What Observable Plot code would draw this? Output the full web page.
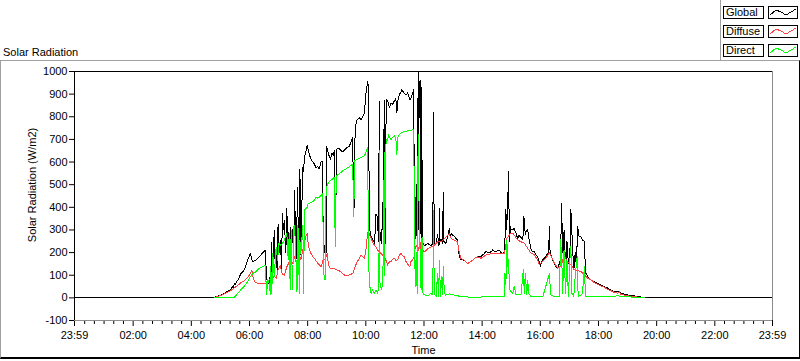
<!DOCTYPE html>
<html>
<head>
<meta charset="utf-8">
<script src="https://cdn.jsdelivr.net/npm/d3@7"></script>
<script src="https://cdn.jsdelivr.net/npm/@observablehq/plot@0.6"></script>
<style>
  body { margin: 0; background: #fff; font-family: "Liberation Sans", Arial, sans-serif; }
  #wrap { position: relative; width: 800px; height: 361px; overflow: hidden; background: #fff; }
  #title { position: absolute; left: 3px; top: 47px; font-size: 11px; line-height: 11px; color: #000; white-space: nowrap; }
  #legendPanel { position: absolute; left: 720px; top: 0; width: 80px; height: 61px; border-left: 1px solid #a0a0a0; box-sizing: border-box; }
  .lab { position: absolute; left: 723px; width: 41px; height: 13px; border: 1px solid #000; box-sizing: border-box; font-size: 11px; line-height: 11px; padding-left: 2px; background: #fff; white-space: nowrap; }
  .sw { position: absolute; left: 768px; width: 30px; height: 13px; border: 1px solid #000; box-sizing: border-box; background: #fff; }
  .sw svg { display: block; }
  #chart { position: absolute; left: 0; top: 60px; }
  #panel { position: absolute; left: 0; top: 60px; width: 800px; height: 299px; box-sizing: border-box; border-top: 1px solid #a0a0a0; border-left: 1px solid #a0a0a0; border-right: 1px solid #000; border-bottom: 2px solid #000; pointer-events: none; }
</style>
</head>
<body>
<div id="wrap">
  <div id="title">Solar Radiation</div>
  <div id="legendPanel"></div>
  <div id="legend"></div>
  <div id="chart"></div>
  <div id="panel"></div>
</div>
<script>
// ---- data ----
const seriesNames = ["Global", "Diffuse", "Direct"];
const seriesColors = ["#000000", "#ff4040", "#00ff00"];

const yTicks = [-100, 0, 100, 200, 300, 400, 500, 600, 700, 800, 900, 1000];
const xMajorTicks = [-1, 120, 240, 360, 480, 600, 720, 840, 960, 1080, 1200, 1320, 1439];
const xMajorLabels = ["23:59", "02:00", "04:00", "06:00", "08:00", "10:00", "12:00", "14:00", "16:00", "18:00", "20:00", "22:00", "23:59"];

const globalTimes = ["23:59","04:45","04:50","04:55","05:00","05:05","05:08","05:12","05:16","05:20","05:22","05:25","05:27","05:29","05:31","05:33","05:36","05:39","05:42","05:45","05:49","05:52","05:56","05:59","06:02","06:05","06:07","06:10","06:13","06:17","06:20","06:24","06:27","06:30","06:33","06:35","06:38","06:41","06:43","06:44","06:46","06:47","06:49","06:51","06:53","06:55","06:57","06:59","07:01","07:04","07:06","07:08","07:10","07:12","07:15","07:17","07:19","07:20","07:22","07:24","07:26","07:29","07:31","07:33","07:35","07:36","07:38","07:39","07:41","07:43","07:44","07:46","07:48","07:50","07:52","07:53","07:56","07:59","08:01","08:04","08:07","08:11","08:14","08:17","08:21","08:24","08:28","08:31","08:32","08:34","08:36","08:38","08:39","08:43","08:47","08:50","08:53","08:55","08:57","08:58","08:59","09:01","09:05","09:12","09:19","09:26","09:33","09:35","09:36","09:38","09:42","09:47","09:50","09:54","09:57","10:00","10:02","10:04","10:06","10:07","10:11","10:14","10:18","10:21","10:24","10:26","10:28","10:29","10:30","10:32","10:35","10:37","10:38","10:40","10:42","10:45","10:49","10:52","10:55","10:59","11:02","11:04","11:06","11:09","11:11","11:13","11:14","11:19","11:23","11:26","11:31","11:33","11:37","11:39","11:40","11:42","11:44","11:46","11:47","11:48","11:49","11:50","11:52","11:54","11:55","11:57","12:01","12:08","12:14","12:18","12:20","12:21","12:25","12:28","12:31","12:32","12:33","12:35","12:38","12:40","12:41","12:45","12:49","12:52","12:54","12:56","13:03","13:09","13:13","13:16","13:23","13:30","13:37","13:44","13:51","13:58","14:04","14:08","14:12","14:15","14:19","14:22","14:26","14:29","14:32","14:35","14:39","14:42","14:46","14:47","14:49","14:50","14:51","14:53","14:54","14:55","14:57","14:58","14:59","15:03","15:06","15:10","15:13","15:16","15:19","15:22","15:24","15:26","15:27","15:29","15:32","15:34","15:37","15:41","15:44","15:48","15:51","15:54","15:58","16:00","16:03","16:05","16:08","16:12","16:15","16:17","16:19","16:20","16:22","16:25","16:29","16:32","16:36","16:39","16:41","16:43","16:44","16:45","16:46","16:48","16:49","16:51","16:53","16:55","16:56","16:58","17:00","17:02","17:03","17:05","17:07","17:09","17:10","17:12","17:14","17:16","17:17","17:18","17:20","17:24","17:27","17:31","17:33","17:34","17:38","17:45","17:51","17:58","18:05","18:12","18:19","18:26","18:33","18:40","18:43","18:46","18:53","19:00","19:14","19:28","19:31","23:59"];
const globalValues = [0,0,4,8,12,16,20,25,30,33,38,50,45,64,60,70,79,90,108,112,123,140,167,180,196,168,160,163,167,175,181,190,199,205,210,86,70,60,110,80,247,90,160,298,150,225,120,327,200,254,130,371,300,340,200,393,250,290,150,310,160,300,200,474,280,170,350,488,250,210,569,190,400,576,560,620,640,674,655,630,612,600,591,576,580,570,605,600,254,230,196,200,667,635,612,640,630,650,232,240,655,660,660,645,660,670,708,357,420,750,788,795,788,803,817,898,930,956,910,313,269,260,240,371,357,250,868,300,270,240,371,600,871,240,876,870,840,860,855,870,880,817,870,898,905,912,920,905,895,905,876,880,905,920,357,260,500,225,600,1000,300,940,960,240,930,247,230,240,230,240,817,230,240,280,230,393,250,260,240,466,250,240,270,306,270,284,270,255,180,170,165,152,160,174,181,183,195,205,200,199,205,212,205,205,210,212,200,197,205,250,389,300,330,420,558,430,250,315,300,300,307,285,263,275,270,260,255,359,340,280,300,300,255,212,205,205,190,183,160,138,160,168,175,183,197,200,315,210,190,170,153,140,131,150,168,300,418,300,200,212,300,200,170,250,212,150,170,250,389,300,200,130,138,200,150,240,315,300,270,270,256,250,120,109,94,79,72,65,57,50,43,35,28,26,30,22,16,13,9,4,0,0];

const diffuseTimes = ["04:47","04:55","05:00","05:08","05:15","05:22","05:29","05:36","05:42","05:49","05:56","06:02","06:05","06:07","06:10","06:13","06:20","06:27","06:33","06:37","06:41","06:44","06:48","06:51","06:55","06:59","07:02","07:04","07:06","07:08","07:12","07:17","07:20","07:24","07:29","07:33","07:36","07:39","07:44","07:46","07:50","07:53","07:56","07:59","08:01","08:04","08:07","08:11","08:14","08:17","08:21","08:28","08:31","08:33","08:36","08:38","08:40","08:43","08:47","08:50","08:55","09:01","09:05","09:12","09:19","09:26","09:33","09:38","09:42","09:47","09:50","09:54","09:57","10:00","10:02","10:04","10:07","10:11","10:14","10:18","10:21","10:24","10:28","10:31","10:35","10:38","10:40","10:43","10:45","10:49","10:52","10:55","10:59","11:02","11:06","11:09","11:13","11:16","11:19","11:23","11:26","11:31","11:33","11:37","11:39","11:42","11:46","11:48","11:52","11:55","11:57","12:01","12:08","12:14","12:21","12:28","12:35","12:42","12:49","12:52","12:56","13:03","13:09","13:13","13:16","13:23","13:30","13:37","13:44","13:51","13:58","14:08","14:22","14:35","14:46","14:51","14:55","14:59","15:03","15:06","15:13","15:20","15:27","15:34","15:41","15:48","15:54","15:58","16:01","16:08","16:15","16:19","16:22","16:29","16:36","16:43","16:47","16:49","16:56","17:03","17:10","17:17","17:24","17:31","17:38","17:45","17:51","17:58","18:05","18:12","18:19","18:33","18:40","18:43","18:46","19:00","19:14","19:28","19:31"];
const diffuseValues = [0,6,10,18,25,33,45,55,67,75,90,108,123,94,75,67,64,64,64,72,79,86,84,96,86,123,137,145,115,105,100,137,150,167,152,181,160,137,181,170,210,240,269,284,240,210,196,180,174,165,152,137,160,174,167,180,196,145,130,130,130,123,120,108,96,101,108,137,160,174,189,180,175,210,250,291,284,262,247,232,225,210,205,196,189,182,172,160,145,160,160,170,174,165,170,190,196,185,182,160,150,137,160,170,175,225,232,210,247,200,210,203,218,225,232,247,247,262,276,284,262,255,247,200,174,167,152,160,174,181,175,190,197,197,197,263,274,286,286,278,256,248,241,219,197,190,168,146,153,168,185,200,185,153,131,138,175,190,160,146,124,121,116,102,87,79,68,60,53,47,38,24,20,28,16,9,6,1,0];

const directTimes = ["04:47","05:25","05:29","05:36","05:42","05:49","05:56","06:02","06:07","06:13","06:20","06:27","06:33","06:35","06:38","06:41","06:43","06:44","06:46","06:48","06:51","06:55","06:58","07:01","07:04","07:08","07:12","07:15","07:17","07:20","07:22","07:24","07:26","07:29","07:31","07:33","07:36","07:38","07:40","07:43","07:44","07:46","07:50","07:52","07:53","07:59","08:01","08:07","08:14","08:17","08:21","08:28","08:31","08:33","08:36","08:38","08:40","08:43","08:47","08:51","08:55","08:57","08:59","09:05","09:12","09:19","09:26","09:33","09:35","09:37","09:42","09:50","09:57","10:00","10:04","10:05","10:07","10:11","10:14","10:18","10:21","10:24","10:27","10:28","10:29","10:32","10:35","10:37","10:38","10:39","10:40","10:42","10:45","10:47","10:49","10:52","10:55","10:59","11:02","11:04","11:06","11:09","11:14","11:19","11:26","11:33","11:39","11:40","11:42","11:44","11:46","11:47","11:48","11:50","11:52","11:54","11:56","11:58","12:01","12:08","12:14","12:18","12:20","12:21","12:25","12:28","12:30","12:32","12:34","12:36","12:38","12:40","12:42","12:45","12:52","13:03","13:16","13:37","14:04","14:32","14:46","14:47","14:49","14:51","14:53","14:54","14:57","15:03","15:06","15:10","15:20","15:25","15:27","15:29","15:32","15:34","15:36","15:41","15:54","16:05","16:19","16:21","16:29","16:39","16:41","16:42","16:45","16:46","16:49","16:52","16:55","16:58","17:02","17:03","17:05","17:09","17:12","17:16","17:18","17:24","17:27","17:31","17:33","17:38","18:33","18:40","18:43","19:00","19:31","19:35"];
const directValues = [0,0,3,20,35,50,72,94,108,115,130,137,145,13,80,60,13,137,20,196,94,225,165,247,230,240,254,276,284,167,284,35,298,35,313,320,167,28,320,20,254,196,320,20,386,400,415,422,430,445,440,452,459,108,79,474,495,510,518,525,532,225,540,547,561,570,579,591,357,605,612,620,627,642,664,313,64,20,35,20,35,20,50,649,70,35,64,386,642,100,576,700,695,722,708,700,710,715,705,634,710,722,730,734,738,740,744,357,50,200,20,400,722,386,200,35,270,20,13,9,20,13,386,20,6,108,6,167,6,94,13,137,20,12,18,12,6,3,4,4,4,109,60,256,140,168,35,20,50,13,13,124,20,109,13,79,20,6,6,4,109,13,6,6,168,256,120,20,212,20,168,6,212,227,20,6,94,183,6,13,20,139,6,4,4,12,6,4,3,0];

// ---- helpers ----
function toMinutes(s, i) {
  const [h, m] = s.split(":").map(Number);
  const v = h * 60 + m;
  return (i === 0 && v === 1439) ? -1 : v; // first point "23:59" is the previous day
}
function build(times, values, name) {
  return times.map((t, i) => ({t: toMinutes(t, i), v: values[i], series: name}));
}
const globalData = build(globalTimes, globalValues, "Global");
const diffuseData = build(diffuseTimes, diffuseValues, "Diffuse");
const directData = build(directTimes, directValues, "Direct");

const xMinorTicks = d3.range(20, 1440, 20).filter(t => t % 120 !== 0);
const labelOf = new Map(xMajorTicks.map((t, i) => [t, xMajorLabels[i]]));

const FONT = "'Liberation Sans', Arial, sans-serif";

const chart = Plot.plot({
  width: 800,
  height: 298,
  marginTop: 11,
  marginBottom: 38,
  marginLeft: 74,
  marginRight: 28,
  x: {domain: [-1, 1439]},
  y: {domain: [-100, 1000]},
  style: {fontFamily: FONT, fontSize: "11px", background: "transparent", color: "#000", overflow: "visible"},
  marks: [
    Plot.axisY(yTicks, {anchor: "left", tickSize: 5, tickPadding: 2, tickFormat: d => String(d), label: null, fontSize: 11}),
    Plot.axisX(xMinorTicks, {anchor: "bottom", tickSize: 4, tickFormat: () => "", label: null}),
    Plot.axisX(xMajorTicks, {anchor: "bottom", tickSize: 6, tickPadding: 5, tickFormat: d => labelOf.get(d), label: null, fontSize: 11}),
    Plot.line(globalData, {x: "t", y: "v", stroke: seriesColors[0], strokeWidth: 1, shapeRendering: "crispEdges"}),
    Plot.line(diffuseData, {x: "t", y: "v", stroke: seriesColors[1], strokeWidth: 1, shapeRendering: "crispEdges"}),
    Plot.line(directData, {x: "t", y: "v", stroke: seriesColors[2], strokeWidth: 1, shapeRendering: "crispEdges"}),
    Plot.ruleY([-100], {stroke: "#8c8c8c"}),
    Plot.ruleX([1439], {stroke: "#8c8c8c"}),
    Plot.ruleY([1000], {stroke: "#000"}),
    Plot.ruleX([-1], {stroke: "#000"}),
    Plot.text(["Time"], {frameAnchor: "bottom", dy: 33, fontSize: 11}),
    Plot.text(["Solar Radiation (W/m2)"], {frameAnchor: "left", textAnchor: "middle", dx: -42, dy: -11, rotate: -90, fontSize: 11})
  ]
});
document.getElementById("chart").appendChild(chart);

// ---- legend (HTML, above the SVG) ----
const legendTops = [6, 25, 44];
const legend = document.getElementById("legend");
seriesNames.forEach((name, i) => {
  const lab = document.createElement("div");
  lab.className = "lab";
  lab.style.top = legendTops[i] + "px";
  lab.textContent = name;
  legend.appendChild(lab);
  const sw = document.createElement("div");
  sw.className = "sw";
  sw.style.top = legendTops[i] + "px";
  sw.innerHTML = `<svg width="28" height="11"><polyline points="1,8 7,3 12,5 17,8 22,5 27,2" fill="none" stroke="${seriesColors[i]}" stroke-width="1" shape-rendering="crispEdges"/></svg>`;
  legend.appendChild(sw);
});
</script>
</body>
</html>
